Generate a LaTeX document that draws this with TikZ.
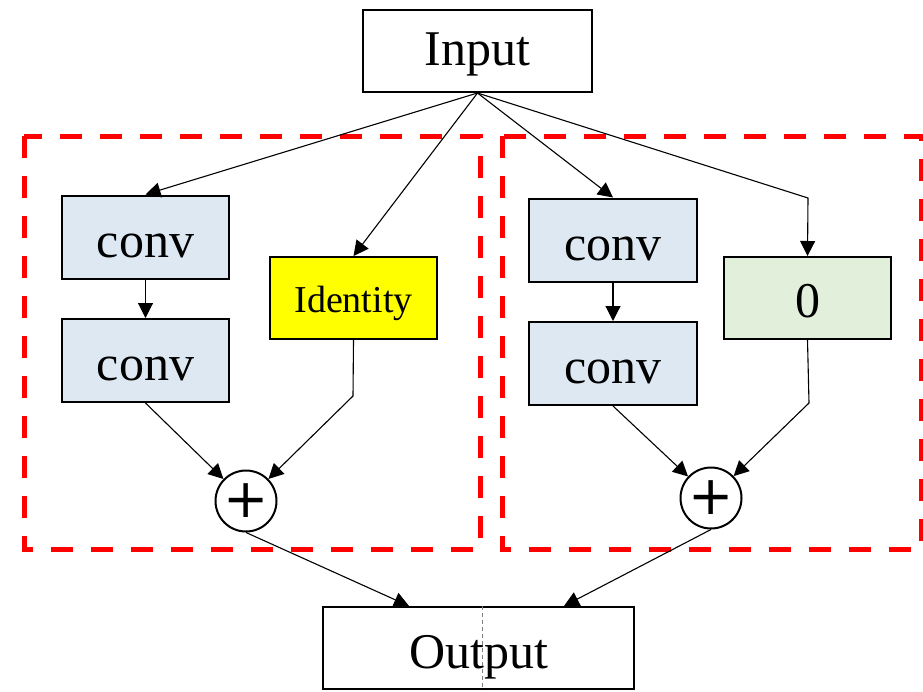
\documentclass[tikz,border=0pt]{standalone}
\usepackage{fontspec}
\setmainfont{Liberation Serif}
\newfontfamily\plusfont{DejaVu Sans}
\usetikzlibrary{arrows.meta,calc}
\definecolor{convblue}{HTML}{DDE8F2}
\definecolor{zerogreen}{HTML}{E2EFDA}
\definecolor{idyellow}{HTML}{FFFF00}
\tikzset{
  box/.style={draw=black, line width=2pt, rectangle, inner sep=0pt, text height=40pt, text depth=0pt, font=\fontsize{50}{60}\selectfont},
  convbox/.style={box, fill=convblue, minimum width=167pt, minimum height=83pt},
  addnode/.style={draw=black, line width=2pt, circle, minimum size=61pt, inner sep=0pt, fill=white, font=\plusfont\fontsize{54}{60}\selectfont},
  conn/.style={draw=black, line width=1.1pt, -{Triangle[length=15pt,width=15pt]}},
  redbox/.style={draw=red, line width=5pt, dash pattern=on 22pt off 18pt}
}
\begin{document}
\begin{tikzpicture}[x=1pt,y=-1pt]
\useasboundingbox (0,0) rectangle (923,691);
% dashed groups
\draw[redbox] (24,136) rectangle (480,549);
\draw[redbox] (502,136) rectangle (921,549);
% nodes
\node[box, fill=white, minimum width=229pt, minimum height=82pt, text depth=12pt] (inp) at (477.5,51) {Input};
\node[convbox] (c1) at (145.5,237) {conv};
\node[convbox] (c2) at (145.5,360.5) {conv};
\node[box, fill=idyellow, minimum width=167pt, minimum height=82pt, text depth=12pt, font=\fontsize{38}{44}\selectfont] (id) at (353.5,298) {Identity};
\node[addnode] (p1) at (246,501) {+};
\node[convbox, minimum width=168pt] (c3) at (613,240) {conv};
\node[convbox, minimum width=168pt] (c4) at (613,363.5) {conv};
\node[box, fill=zerogreen, minimum width=167pt, minimum height=82pt, text depth=2pt] (z) at (807.5,298) {0};
\node[addnode] (p2) at (711,498) {+};
\node[box, fill=white, minimum width=311pt, minimum height=82pt] (out) at (478.5,648) {Output};
\draw[gray, line width=0.8pt, dash pattern=on 4pt off 3pt] ($(out.north west)+(160,0)$) -- ($(out.south west)+(160,0)$);
% elbow coordinates
\coordinate (e1) at (808,198);
\coordinate (e2) at (353,396);
\coordinate (e3) at (809,403);
\coordinate (o1) at ($(out.north west)+(87,0)$);
\coordinate (o2) at ($(out.north west)+(242,0)$);
% connectors
\draw[conn] (inp.south) -- (c1.north);
\draw[conn] (inp.south) -- (id.north);
\draw[conn] (inp.south) -- (c3.north);
\draw[conn] (inp.south) -- (e1) -- (z.north);
\draw[conn] (c1.south) -- (c2.north);
\draw[conn] (c3.south) -- (c4.north);
\draw[conn] (c2.south) -- (p1);
\draw[conn] (id.south) -- (e2) -- (p1);
\draw[conn] (c4.south) -- (p2);
\draw[conn] (z.south) -- (e3) -- (p2);
\draw[conn] (p1.south) -- (o1);
\draw[conn] (p2.south) -- (o2);
\end{tikzpicture}
\end{document}
